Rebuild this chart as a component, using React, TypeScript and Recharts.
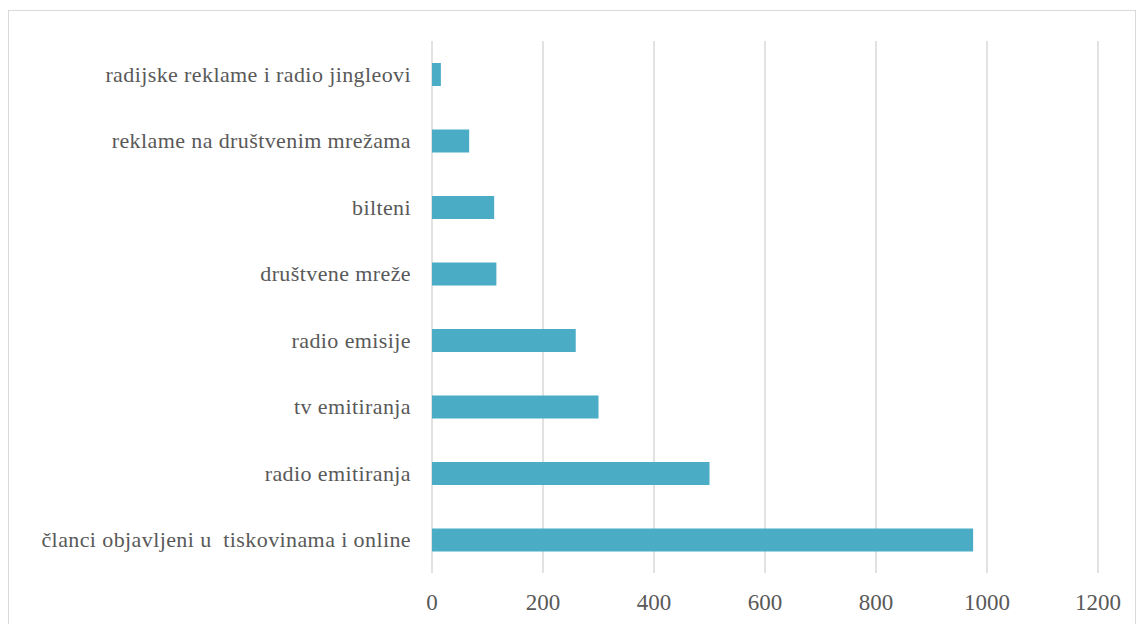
import React from 'react';
import { BarChart, Bar, XAxis, YAxis, CartesianGrid } from 'recharts';

const categories = [
  'radijske reklame i radio jingleovi',
  'reklame na društvenim mrežama',
  'bilteni',
  'društvene mreže',
  'radio emisije',
  'tv emitiranja',
  'radio emitiranja',
  'članci objavljeni u  tiskovinama i online',
];
const values = [16, 67, 112, 116, 259, 300, 500, 975];
const xTicks = [0, 200, 400, 600, 800, 1000, 1200];

const data = categories.map((c, i) => ({ name: c, value: values[i] }));

const FONT = "'Liberation Serif', 'Times New Roman', Tinos, 'DejaVu Serif', serif";
const TEXT = '#595959';

const XTick = (props: any) => {
  const { x, y, payload } = props;
  return (
    <text x={x} y={y + 37} textAnchor="middle" fill={TEXT} style={{ fontFamily: FONT, fontSize: 23 }}>
      {payload.value}
    </text>
  );
};

const YTick = (props: any) => {
  const { x, y, payload } = props;
  return (
    <text x={x - 21} y={y} dy="0.33em" textAnchor="end" fill={TEXT} style={{ fontFamily: FONT, fontSize: 22, letterSpacing: 0.4, whiteSpace: 'pre' }}>
      {payload.value}
    </text>
  );
};

export default function App() {
  return (
    <div style={{ position: 'absolute', left: 0, top: 0, width: 1140, height: 624, overflow: 'hidden', background: '#fff', fontFamily: FONT }}>
      <div style={{ position: 'absolute', left: 8, top: 10, width: 1128, height: 640, border: '1.5px solid #d9d9d9', boxSizing: 'border-box' }} />
      <div style={{ position: 'absolute', left: 0, top: 0 }}>
        <BarChart
          width={1140}
          height={624}
          data={data}
          layout="vertical"
          margin={{ top: 41, right: 42, bottom: 0, left: 0 }}
          barCategoryGap={0}
          style={{ fontFamily: FONT }}
        >
          <CartesianGrid horizontal={false} stroke="#d9d9d9" strokeWidth={1.5} />
          <XAxis
            type="number"
            domain={[0, 1200]}
            ticks={xTicks}
            axisLine={false}
            tickLine={false}
            tickSize={0}
            tickMargin={0}
            height={51}
            tick={<XTick />}
            interval={0}
          />
          <YAxis
            type="category"
            dataKey="name"
            width={432}
            axisLine={false}
            tickLine={false}
            tickSize={0}
            tickMargin={0}
            tick={<YTick />}
            interval={0}
          />
          <Bar dataKey="value" fill="#4BACC6" barSize={23} isAnimationActive={false} />
        </BarChart>
      </div>
    </div>
  );
}
